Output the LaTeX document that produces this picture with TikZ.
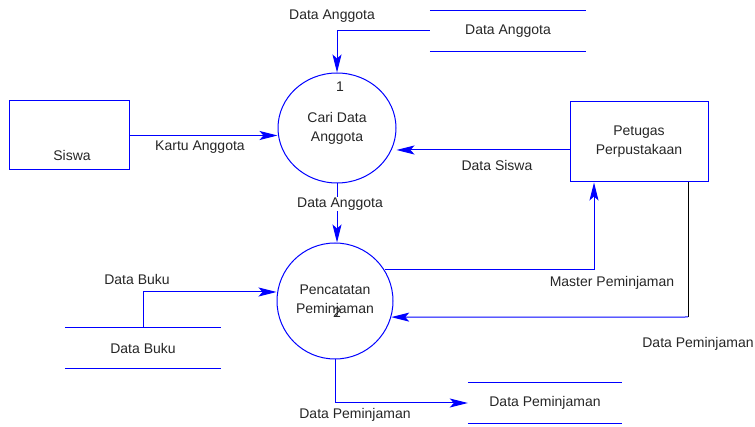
\documentclass[tikz,border=0pt]{standalone}
\usepackage{fontspec}
\setmainfont{Liberation Sans}
\usetikzlibrary{arrows.meta,shapes.geometric}

\tikzset{
  basic/.style   = {draw=blue, line width=1pt, inner sep=0pt, align=center},
  entity/.style  = {basic, rectangle},
  process/.style = {basic, ellipse},
  store/.style   = {rectangle, minimum width=156pt, minimum height=40pt, inner sep=0pt},
  flow/.style    = {draw=blue, line width=1pt, ->},
  lbl/.style     = {inner sep=1pt}
}

\begin{document}
\begin{tikzpicture}[x=1pt, y=-1pt,
  >={Stealth[length=18pt, width=9pt, inset=4pt]},
  font=\fontsize{14}{19}\selectfont, text=black!85]
\useasboundingbox (0,0) rectangle (755,427);

% The two processes
\begin{scope}[every node/.style={process}]
\node[minimum width=118pt, minimum height=110pt] (p1) at (337,128) {Cari Data\\Anggota};
\node[minimum width=116pt, minimum height=116pt] (p2) at (335,301) {Pencatatan\\Peminjaman};
\end{scope}
\node (n1) at (340,87) {1};
\node (n2) at (337,313) {2};

% External entities
\begin{scope}[every node/.style={entity}]
\node[minimum width=120pt, minimum height=69pt] (siswa) at (69,135.5) {};
\node[minimum width=138pt, minimum height=80pt] (petugas) at (639,142) {Petugas\\Perpustakaan};
\end{scope}
\node (tsiswa) at (72,155) {Siswa};

% Data stores, open at both ends
\begin{scope}[every node/.style={store}]
\node (sa) at (508,31) {Data Anggota};
\node (sb) at (143,348) {Data Buku};
\node[minimum width=154pt] (sp) at (545,403) {Data Peminjaman};
\end{scope}

\foreach \s in {sa,sb,sp}
  \draw[blue, line width=1pt] (\s.north west) -- (\s.north east) (\s.south west) -- (\s.south east);

% Data flows
\draw[flow] (sa.west) -| (p1.north);
\draw[flow] (siswa.east) -- (p1.west |- siswa.east);
\draw[flow] ([yshift=-8pt]petugas.west) -- ([yshift=-22pt]p1.east);
\draw[flow] (p1.south) -- (p1.south |- p2.north);
\draw[flow] (sb.north) |- ([yshift=9pt]p2.west);
\draw[flow] (p2.32) -| ([xshift=-45pt]petugas.south);
\coordinate (dp) at (688,317);
\draw[black, line width=1pt] (petugas.south -| dp) -- (dp);
\draw[flow] (dp) -- (p2.-16);
\draw[flow] (p2.south) |- (sp.west);

\begin{scope}[every node/.style={lbl}]
\node (l1) at (332,16) {Data Anggota};
\node (l2) at (200,147) {Kartu Anggota};
\node (l3) at (497,165) {Data Siswa};
\node[fill=white] (l4) at (340,204) {Data Anggota};
\node (l5) at (137,279) {Data Buku};
\node (l6) at (612,283) {Master Peminjaman};
\node (l7) at (698,344) {Data Peminjaman};
\node (l8) at (355,415) {Data Peminjaman};
\end{scope}

\end{tikzpicture}
\end{document}
